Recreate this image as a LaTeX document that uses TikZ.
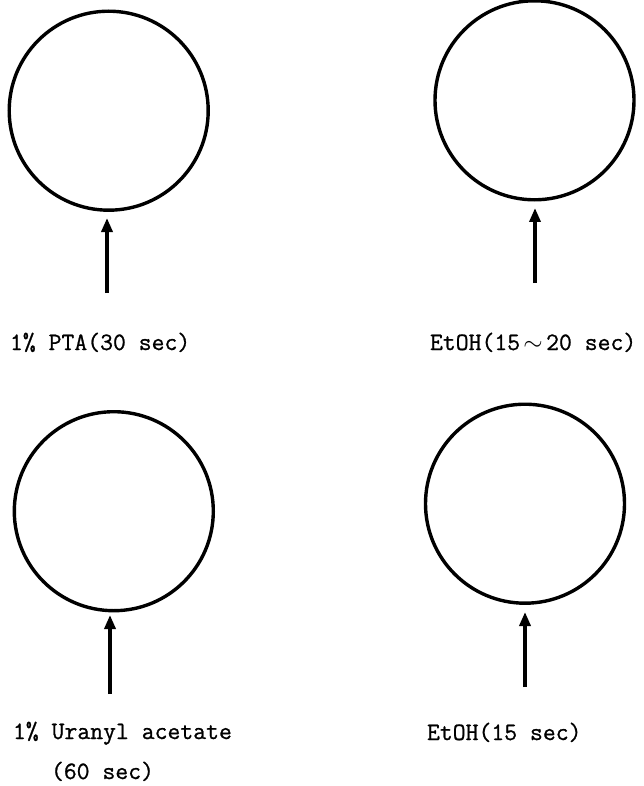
\documentclass[tikz,border=0pt]{standalone}
\usepackage{fontspec}
\newfontfamily\labelfont[FakeBold=0.9]{Latin Modern Mono}
\usetikzlibrary{arrows.meta}
\begin{document}
\begin{tikzpicture}[x=1pt,y=-1pt,
  dish/.style={circle,draw=black,line width=3.4pt,minimum size=199pt,inner sep=0pt,outer sep=0pt},
  feed/.style={line width=3.4pt,-{Triangle[length=14pt,width=11pt]}},
  lbl/.style={anchor=base west,inner sep=0pt,outer sep=0pt,font=\fontsize{25}{30}\selectfont\labelfont}]
\useasboundingbox (0,0) rectangle (644,786);
% dishes
\node[dish] (c1) at (108.7,110.7) {};
\node[dish] (c2) at (534.5,100.3) {};
\node[dish] (c3) at (113.8,511.2) {};
\node[dish] (c4) at (525,503.7) {};
% arrow tails and tips
\coordinate (t1) at (107,293);   \coordinate (h1) at (107,218);
\coordinate (t2) at (535,283);   \coordinate (h2) at (535,208);
\coordinate (t3) at (110,694);   \coordinate (h3) at (110,615);
\coordinate (t4) at (525,687);   \coordinate (h4) at (525,612);
\draw[feed] (t1) -- (h1);
\draw[feed] (t2) -- (h2);
\draw[feed] (t3) -- (h3);
\draw[feed] (t4) -- (h4);
% labels
\node[lbl] (l1) at (10,350) {1\% PTA(30 sec)};
\node[lbl] (l2) at (430,350) {EtOH(15\hbox to 26pt{\hss$\sim$\hss}20 sec)};
\node[lbl] (l3) at (13,739) {1\% Uranyl acetate};
\node[lbl] (l3b) at (51,779) {(60 sec)};
\node[lbl] (l4) at (427,740) {EtOH(15 sec)};
\end{tikzpicture}
\end{document}
